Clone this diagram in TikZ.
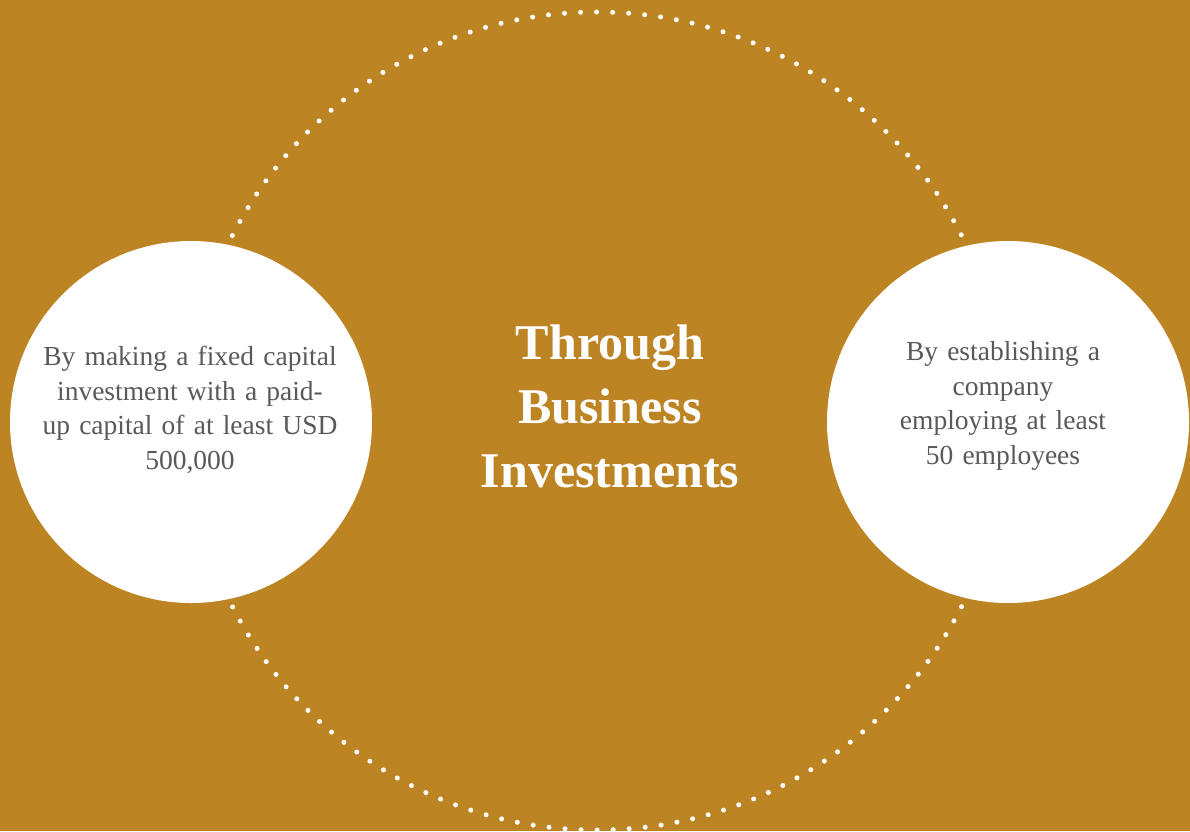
\documentclass[tikz,border=0pt]{standalone}
\usepackage{fontspec}
\setmainfont{Liberation Serif}
\newfontfamily\bubblefont[WordSpace=0.85]{Liberation Serif}
\definecolor{gold}{HTML}{BD8424}
\definecolor{txtgray}{HTML}{58595B}
\begin{document}
\begin{tikzpicture}[x=1pt,y=-1pt,
  ring/.style={draw=white, line width=5pt, line cap=round, dash pattern=on 0pt off 16.06pt},
  bubble/.style={circle, fill=white, minimum size=362pt, inner sep=0pt},
  bubbletext/.style={text=txtgray, font=\bubblefont\fontsize{27.5}{34.5}\selectfont, align=center},
  title/.style={text=white, font=\fontsize{50}{64}\selectfont\bfseries, align=center}]
\fill[gold] (0,0) rectangle (1190,831);
\useasboundingbox (0,0) rectangle (1190,831);
\coordinate (c) at (597,421);
\draw[ring] (c) circle[radius=409];
\node[bubble] (L) at (191,422) {};
\node[bubble] (R) at (1008,422) {};
\node[bubbletext, text width=340pt] (Lt) at (190,410) {By making a fixed capital\\investment with a paid-\\up capital of at least USD\\500,000};
\node[bubbletext, text width=340pt] (Rt) at (1003,406) {By establishing a\\company\\employing at least\\50 employees};
\node[title] (T) at (610,406) {Through\\Business\\Investments};
\end{tikzpicture}
\end{document}
